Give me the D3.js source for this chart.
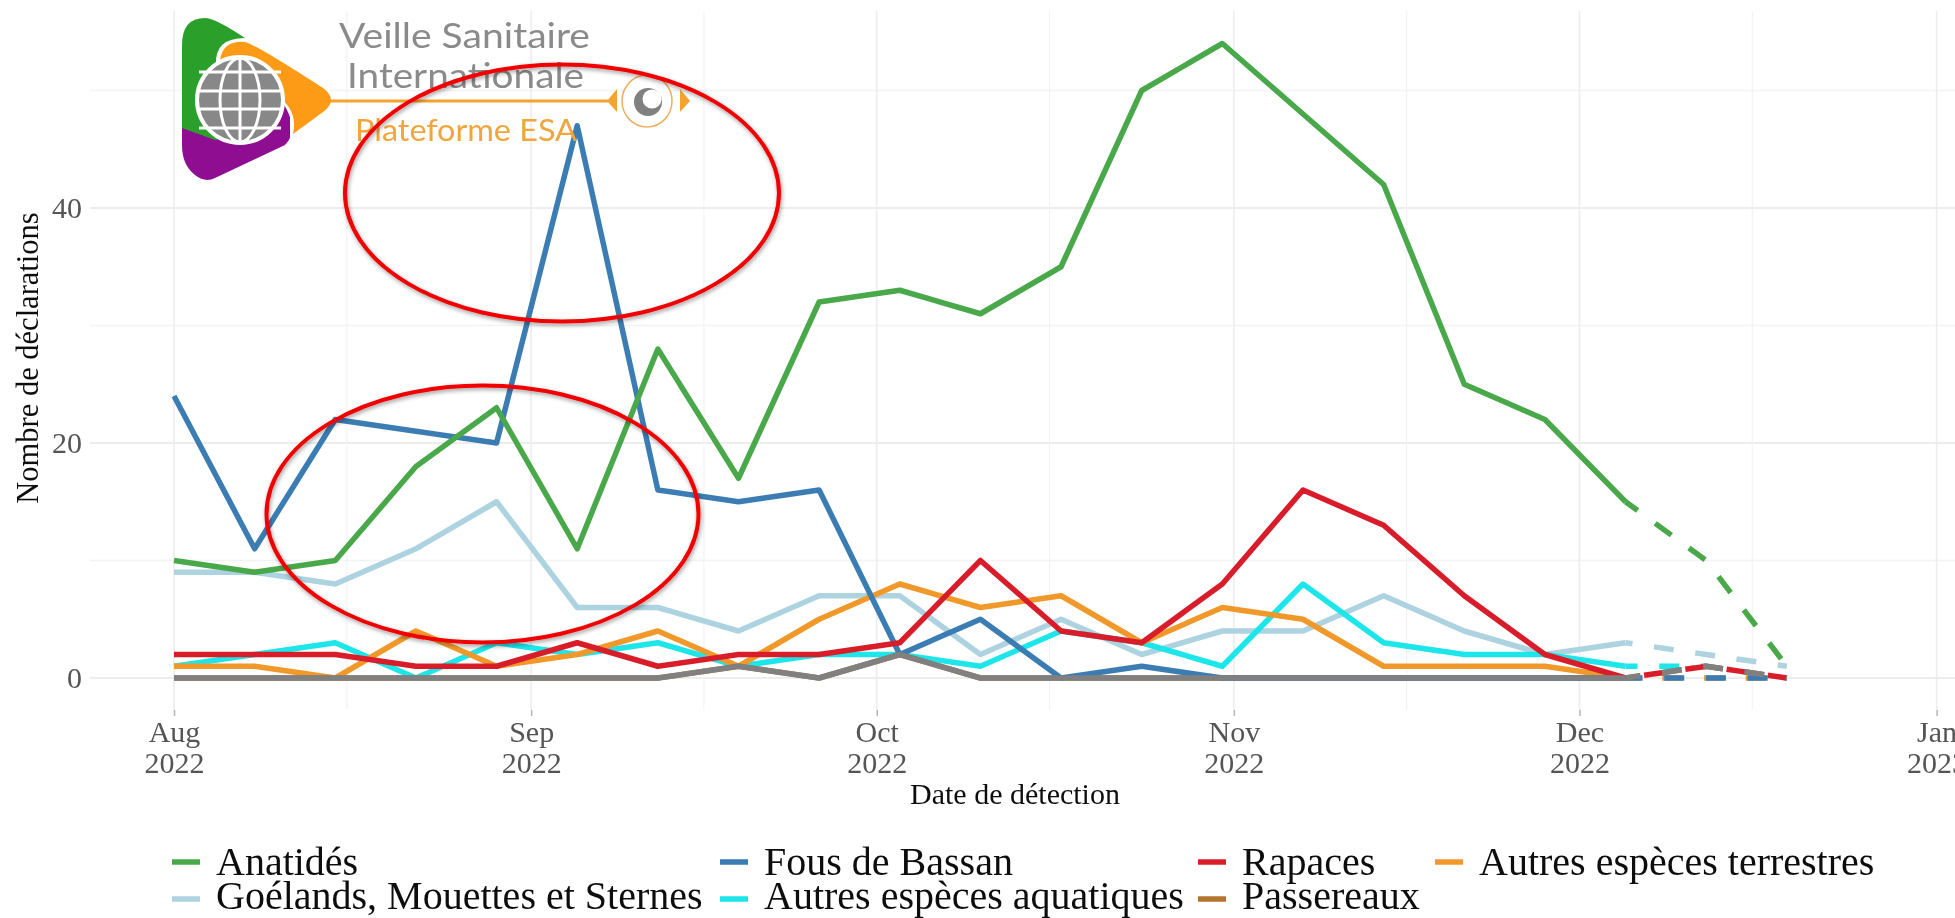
<!DOCTYPE html>
<html><head><meta charset="utf-8">
<script src="https://cdn.jsdelivr.net/npm/d3@7/dist/d3.min.js"></script>
<style>html,body{margin:0;padding:0;background:#fff}svg{display:block}</style>
</head><body><svg id="c" width="1955" height="918"></svg>
<script>
const weekStarts = ["2022-08-01","2022-08-08","2022-08-15","2022-08-22","2022-08-29","2022-09-05","2022-09-12","2022-09-19","2022-09-26","2022-10-03","2022-10-10","2022-10-17","2022-10-24","2022-10-31","2022-11-07","2022-11-14","2022-11-21","2022-11-28","2022-12-05","2022-12-12","2022-12-19"];
const anatides   = [10,9,10,18,23,11,28,17,32,33,31,35,50,54,48,42,25,22,15,10,1];
const fous       = [24,11,22,21,20,47,16,15,16,2,5,0,1,0,0,0,0,0,0,0,0];
const goelands   = [9,9,8,11,15,6,6,4,7,7,2,5,2,4,4,7,4,2,3,2,1];
const rapaces    = [2,2,2,1,1,3,1,2,2,3,10,4,3,8,16,13,7,2,0,1,0];
const aquatiques = [1,2,3,0,3,2,3,1,2,2,1,4,3,1,8,3,2,2,1,1,0];
const terrestres = [1,1,0,4,1,2,4,1,5,8,6,7,3,6,5,1,1,1,0,0,0];
const passereaux = [0,0,0,0,0,0,0,1,0,2,0,0,0,0,0,0,0,0,0,1,0];
const nonLegende = [0,0,0,0,0,0,0,1,0,2,0,0,0,0,0,0,0,0,0,1,0];
const drawOrder = [
  {v:goelands,c:"#add3e0",o:13},{v:aquatiques,c:"#1ce6ea",o:8},{v:terrestres,c:"#f0992c",o:5},
  {v:passereaux,c:"#b5742f",o:5},{v:fous,c:"#3b7db3",o:3},{v:anatides,c:"#4aa84a",o:5},
  {v:rapaces,c:"#d81f2a",o:23},{v:nonLegende,c:"#808080",o:5}];
const legendLabels = ["Anatidés","Fous de Bassan","Rapaces","Autres espèces terrestres","Goélands, Mouettes et Sternes","Autres espèces aquatiques","Passereaux"];
const legendColors = ["#4aa84a","#3b7db3","#d81f2a","#f0992c","#add3e0","#1ce6ea","#b5742f"];
const legendX = [172,720,1198,1435,172,720,1198];
const monthTicks = ["2022-08-01","2022-09-01","2022-10-01","2022-11-01","2022-12-01","2023-01-01"];
const minorX = ["2022-08-16","2022-09-16","2022-10-16","2022-11-16","2022-12-16"];
const majorY = [0,20,40], minorY = [10,30,50];

const P = d3.timeParse("%Y-%m-%d"), dates = weekStarts.map(P);
const svg = d3.select("#c");
const x = d3.scaleTime().domain([P("2022-08-01"),P("2023-01-01")]).range([174,1936.6]);
const y = d3.scaleLinear().domain([0,40]).range([678,208]);
const plotL=90, plotR=1955, plotT=11, plotB=710;
const defs = svg.append("defs");
const f = defs.append("filter").attr("id","sh").attr("x","-10%").attr("y","-10%").attr("width","120%").attr("height","125%");
f.append("feDropShadow").attr("dx",1).attr("dy",2).attr("stdDeviation",2).attr("flood-color","#000").attr("flood-opacity",.4);
const bl = defs.append("filter").attr("id","bl").attr("filterUnits","userSpaceOnUse").attr("x",0).attr("y",0).attr("width",1955).attr("height",918);
bl.append("feGaussianBlur").attr("stdDeviation",.65);

const root = svg.append("g").attr("filter","url(#bl)");
const g = root.append("g");
// grid
g.selectAll(".hM").data(majorY).join("line").attr("x1",plotL).attr("x2",plotR).attr("y1",d=>y(d)).attr("y2",d=>y(d)).attr("stroke","#ededed").attr("stroke-width",2);
g.selectAll(".hm").data(minorY).join("line").attr("x1",plotL).attr("x2",plotR).attr("y1",d=>y(d)).attr("y2",d=>y(d)).attr("stroke","#f3f3f3").attr("stroke-width",1.5);
g.selectAll(".vM").data(monthTicks.map(P)).join("line").attr("x1",d=>x(d)).attr("x2",d=>x(d)).attr("y1",plotT).attr("y2",plotB).attr("stroke","#ededed").attr("stroke-width",1.6);
g.selectAll(".vm").data(minorX.map(P)).join("line").attr("x1",d=>x(d)).attr("x2",d=>x(d)).attr("y1",plotT).attr("y2",plotB).attr("stroke","#f3f3f3").attr("stroke-width",1.2);

// axes
const ax = g.append("g").attr("transform",`translate(0,${plotB})`)
  .call(d3.axisBottom(x).tickValues(monthTicks.map(P)).tickSize(6).tickPadding(5).tickFormat(d3.timeFormat("%b")));
ax.select(".domain").remove();
ax.selectAll("line").attr("stroke","#b5b5b5").attr("stroke-width",1.5);
ax.selectAll("text").attr("font-family","'Liberation Serif'").attr("font-size",30).attr("fill","#555")
  .each(function(d){const t=d3.select(this),m=t.text();t.text(null);
    t.append("tspan").attr("x",0).attr("dy","0.71em").text(m);
    t.append("tspan").attr("x",0).attr("dy","1.03em").text(d3.timeFormat("%Y")(d));})
  .attr("dy",null).attr("y",11);
const ay = g.append("g").attr("transform",`translate(${plotL},0)`)
  .call(d3.axisLeft(y).tickValues(majorY).tickSize(0).tickPadding(8).tickFormat(d3.format("d")));
ay.select(".domain").remove();
ay.selectAll("text").attr("font-family","'Liberation Serif'").attr("font-size",30).attr("fill","#555");

g.append("text").attr("x",1015).attr("y",804).attr("text-anchor","middle").attr("font-family","'Liberation Serif'").attr("font-size",30).attr("fill","#111").text("Date de détection");
g.append("text").attr("transform","translate(38,358) rotate(-90)").attr("text-anchor","middle").attr("font-family","'Liberation Serif'").attr("font-size",30.5).attr("fill","#111").text("Nombre de déclarations");

// series
const lines = g.append("g").attr("fill","none").attr("stroke-linejoin","round");
const cut = weekStarts.indexOf("2022-12-05");
const lp = d3.line().defined(d=>d!==null).x((d,i)=>x(dates[i])).y(d=>y(d));
drawOrder.forEach(s=>{
  lines.append("path").attr("d",lp(s.v.map((d,i)=>i<=cut?d:null))).attr("stroke",s.c).attr("stroke-width",5.5);
  lines.append("path").attr("d",lp(s.v.map((d,i)=>i>=cut?d:null))).attr("stroke",s.c).attr("stroke-width",5.5).attr("stroke-dasharray","20 21.7").attr("stroke-dashoffset",s.o);
});

// legend
const lg = g.append("g");
legendLabels.forEach((t,i)=>{
  const ly = i<4?862:899, lb = i<4?875:909, lx=legendX[i];
  lg.append("line").attr("x1",lx).attr("x2",lx+28).attr("y1",ly).attr("y2",ly).attr("stroke",legendColors[i]).attr("stroke-width",5.5);
  lg.append("text").attr("x",lx+44).attr("y",lb).attr("font-family","'Liberation Serif'").attr("font-size",40).attr("fill","#111").text(t);
});

// logo
const lo = g.append("g");
lo.append("path").attr("fill","#2ca02c").attr("d","M182 45 Q182 18 205 18 Q215 18 245 38 L250 130 L215 150 Q182 160 182 128 Z");
lo.append("path").attr("fill","#8e0a90").attr("d","M182 128 L215 140 Q255 135 283 103 Q300 130 285 145 L215 178 Q205 183 195 175 Q182 165 182 145 Z");
lo.append("path").attr("fill","#fff").attr("d","M216 64 Q215 38 245 38 Q255 40 325 85 Q341 100 325 116 L290 138 L290 95 Z");
lo.append("path").attr("fill","#fd9b12").attr("d","M220 60 Q223 40 245 42 Q255 44 323 88 Q339 100 323 112 L293 134 Q298 112 280 98 Q250 58 220 60 Z");
lo.append("circle").attr("cx",240).attr("cy",100).attr("r",43).attr("fill","#888").attr("stroke","#fff").attr("stroke-width",4);
const gl = lo.append("g").attr("fill","none").attr("stroke","#fff").attr("stroke-width",3);
gl.append("ellipse").attr("cx",240).attr("cy",100).attr("rx",20).attr("ry",42);
gl.append("line").attr("x1",240).attr("x2",240).attr("y1",58).attr("y2",142);
[-28,-9,9,28].forEach(o=>gl.append("line").attr("x1",199).attr("x2",281).attr("y1",100+o).attr("y2",100+o));
lo.append("line").attr("x1",330).attr("x2",608).attr("y1",101).attr("y2",101).attr("stroke","#f5a22d").attr("stroke-width",3.2);
lo.append("path").attr("fill","#f5a22d").attr("d","M607 101 L617 89 L617 112 Z M680 89 L690 101 L680 112 Z");
lo.append("ellipse").attr("cx",647).attr("cy",101).attr("rx",25).attr("ry",26).attr("fill","#fff").attr("stroke","#eeb060").attr("stroke-width",1.5);
lo.append("circle").attr("cx",648).attr("cy",102).attr("r",14).attr("fill","#808080");
lo.append("circle").attr("cx",652).attr("cy",99).attr("r",9.5).attr("fill","#fff");
const logoText=(t,x0,w,b,fs,c)=>lo.append("text").attr("x",x0).attr("y",b).attr("font-family","Lato").attr("font-weight",400).attr("font-size",fs).attr("fill",c).attr("textLength",w).attr("lengthAdjust","spacingAndGlyphs").text(t);
logoText("Veille Sanitaire",339,251,48,35,"#8a8a8a");
logoText("Internationale",347,237,88,35,"#8a8a8a");
logoText("Plateforme ESA",355,222,141,30,"#f0a63c");

// annotation ellipses
const an = g.append("g").attr("fill","none").attr("stroke","#f00000").attr("stroke-width",4).attr("filter","url(#sh)");
an.append("ellipse").attr("cx",562).attr("cy",193).attr("rx",217).attr("ry",128.5);
an.append("ellipse").attr("cx",482.5).attr("cy",514).attr("rx",216).attr("ry",128.5);
</script></body></html>
